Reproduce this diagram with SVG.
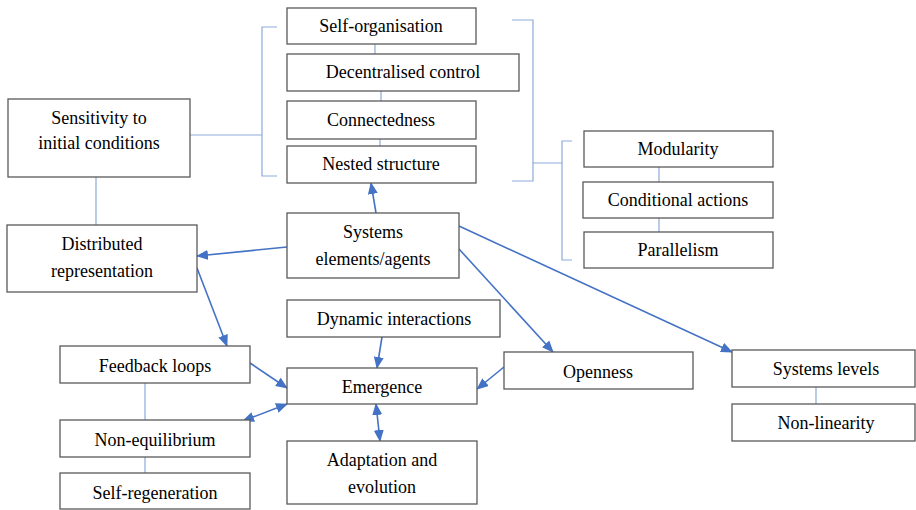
<svg xmlns="http://www.w3.org/2000/svg" width="916" height="510" viewBox="0 0 916 510">
<defs>
<style>
.box{fill:#fff;stroke:#595959;stroke-width:1.3}
.t{font-family:'Liberation Serif','Times New Roman','DejaVu Serif',serif;font-size:18px;fill:#000;text-anchor:middle}
.thin{fill:none;stroke:#8eaadb;stroke-width:1.2}
.arr{fill:none;stroke:#4472c4;stroke-width:1.6}
</style>
<marker id="ah" markerUnits="userSpaceOnUse" markerWidth="12" markerHeight="10" refX="11" refY="5" orient="auto-start-reverse" viewBox="0 0 12 10">
<path d="M0,0 L12,5 L0,10 z" fill="#4472c4"/>
</marker>
</defs>
<rect width="916" height="510" fill="#fff"/>
<g id="connectors">
<path class="thin" d="M277,27 H262 V176 H277 M190,135 H262"/>
<path class="thin" d="M512,20 H533 V181 H512 M533,163 H562 M572,141 H562 V260 H572"/>
<path class="thin" d="M375,44 V54 M381,91 V101 M380,139 V146"/>
<path class="thin" d="M659,167 V182 M659,218 V232"/>
<path class="thin" d="M96,177 V225 M145,383 V420 M145,457 V473 M816,387 V404"/>
<path class="arr" marker-end="url(#ah)" d="M376,213 L371,183"/>
<path class="arr" marker-end="url(#ah)" d="M287,247 L197,256"/>
<path class="arr" marker-end="url(#ah)" d="M197,268 L227,346"/>
<path class="arr" marker-end="url(#ah)" d="M250,363 L287,388"/>
<path class="arr" marker-start="url(#ah)" marker-end="url(#ah)" d="M287,404 L243,421"/>
<path class="arr" marker-end="url(#ah)" d="M382,337 L377,368"/>
<path class="arr" marker-start="url(#ah)" marker-end="url(#ah)" d="M376,404 L380,441"/>
<path class="arr" marker-end="url(#ah)" d="M459,249 L553,352"/>
<path class="arr" marker-end="url(#ah)" d="M459,226 L732,352"/>
<path class="arr" marker-end="url(#ah)" d="M504,367 L477,389"/>
</g>
<g id="self-organisation"><rect class="box" x="287" y="8" width="189" height="36"/><text class="t" font-family="Liberation Serif, serif" x="381" y="32">Self-organisation</text></g>
<g id="decentralised-control"><rect class="box" x="287" y="54" width="232" height="37"/><text class="t" x="403" y="78">Decentralised control</text></g>
<g id="connectedness"><rect class="box" x="287" y="101" width="189" height="38"/><text class="t" x="381" y="126">Connectedness</text></g>
<g id="nested-structure"><rect class="box" x="287" y="146" width="189" height="37"/><text class="t" x="381" y="170">Nested structure</text></g>
<g id="sensitivity"><rect class="box" x="8" y="99" width="182" height="78"/><text class="t" x="99" y="124">Sensitivity to</text><text class="t" x="99" y="149">initial conditions</text></g>
<g id="modularity"><rect class="box" x="584" y="131" width="189" height="36"/><text class="t" x="678" y="155">Modularity</text></g>
<g id="conditional-actions"><rect class="box" x="583" y="182" width="190" height="36"/><text class="t" x="678" y="206">Conditional actions</text></g>
<g id="parallelism"><rect class="box" x="584" y="232" width="189" height="36"/><text class="t" x="678" y="256">Parallelism</text></g>
<g id="distributed"><rect class="box" x="7" y="225" width="190" height="67"/><text class="t" x="102" y="250">Distributed</text><text class="t" x="102" y="277">representation</text></g>
<g id="systems-elements"><rect class="box" x="287" y="213" width="172" height="65"/><text class="t" x="373" y="238">Systems</text><text class="t" x="373" y="265">elements/agents</text></g>
<g id="dynamic-interactions"><rect class="box" x="287" y="300" width="213" height="37"/><text class="t" x="394" y="325">Dynamic interactions</text></g>
<g id="feedback-loops"><rect class="box" x="60" y="346" width="190" height="37"/><text class="t" x="155" y="372">Feedback loops</text></g>
<g id="emergence"><rect class="box" x="287" y="368" width="190" height="36"/><text class="t" x="382" y="393">Emergence</text></g>
<g id="non-equilibrium"><rect class="box" x="60" y="420" width="190" height="37"/><text class="t" x="155" y="446">Non-equilibrium</text></g>
<g id="self-regeneration"><rect class="box" x="60" y="473" width="190" height="36"/><text class="t" x="155" y="499">Self-regeneration</text></g>
<g id="adaptation"><rect class="box" x="287" y="441" width="190" height="63"/><text class="t" x="382" y="466">Adaptation and</text><text class="t" x="382" y="493">evolution</text></g>
<g id="openness"><rect class="box" x="504" y="352" width="189" height="37"/><text class="t" x="598" y="378">Openness</text></g>
<g id="systems-levels"><rect class="box" x="732" y="350" width="183" height="37"/><text class="t" x="826" y="375">Systems levels</text></g>
<g id="non-linearity"><rect class="box" x="732" y="404" width="183" height="37"/><text class="t" x="826" y="429">Non-linearity</text></g>
</svg>
